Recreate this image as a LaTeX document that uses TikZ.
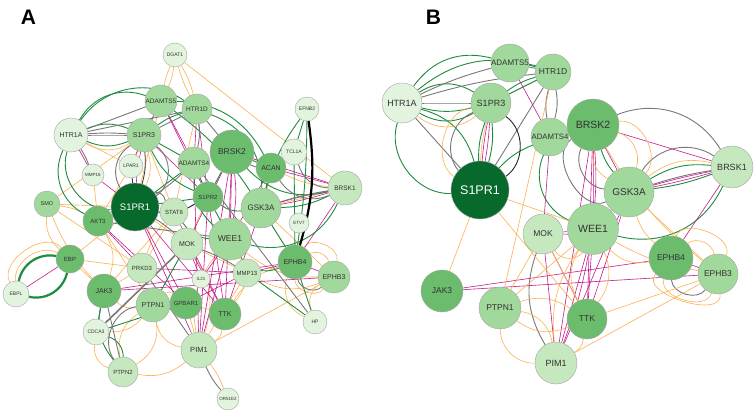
\documentclass[tikz,border=0pt]{standalone}
\usepackage{fontspec}
\setmainfont{Liberation Sans}
\setsansfont{Liberation Sans}
\definecolor{cdark}{RGB}{8,105,45}
\definecolor{cmdk}{RGB}{108,188,110}
\definecolor{cmed}{RGB}{161,216,155}
\definecolor{clight}{RGB}{197,232,190}
\definecolor{cvl}{RGB}{226,244,221}
\definecolor{nborder}{RGB}{165,165,165}
\definecolor{ntext}{RGB}{50,50,50}
\definecolor{eorange}{RGB}{253,178,80}
\definecolor{emag}{RGB}{196,28,140}
\definecolor{egreen}{RGB}{30,140,62}
\definecolor{egray}{RGB}{120,120,120}
\pgfdeclarelayer{bg}
\pgfsetlayers{bg,main}
\tikzset{
  gn/.style={circle, draw=nborder, line width=0.4pt, inner sep=0pt, text=ntext},
  fs/.style={font=\fontsize{#1}{#1}\selectfont},
  eo/.style={draw=eorange, line width=0.6pt},
  em/.style={draw=emag, line width=0.6pt},
  eg/.style={draw=egreen, line width=0.9pt},
  ey/.style={draw=egray, line width=0.9pt},
  ek/.style={draw=black, line width=2.2pt},
  egt/.style={draw=egreen, line width=2.2pt},
  plabel/.style={font=\fontsize{21}{21}\selectfont\bfseries, inner sep=0pt}
}
\begin{document}
\begin{tikzpicture}[x=1pt,y=-1pt]
\useasboundingbox (0,0) rectangle (756,414);
\node[plabel] (labA) at (28.5,17.5) {A};
\node[plabel] (labB) at (433.5,17.5) {B};
% ---------- Panel A nodes ----------
\node[gn, fill=cvl,    minimum size=24pt, fs=5]   (aDGAT1)   at (175,55)  {DGAT1};
\node[gn, fill=cmed,   minimum size=32pt, fs=6.5] (aADAMTS5) at (161,101) {ADAMTS5};
\node[gn, fill=cmed,   minimum size=30pt, fs=6.5] (aHTR1D)   at (197,109) {HTR1D};
\node[gn, fill=cvl,    minimum size=34pt, fs=7]   (aHTR1A)   at (71,135)  {HTR1A};
\node[gn, fill=cmed,   minimum size=34pt, fs=7]   (aS1PR3)   at (144,135) {S1PR3};
\node[gn, fill=cvl,    minimum size=24pt, fs=5]   (aLPAR1)   at (131,166) {LPAR1};
\node[gn, fill=cvl,    minimum size=22pt, fs=4.5] (aMMP16)   at (93,175)  {MMP16};
\node[gn, fill=cmed,   minimum size=26pt, fs=5.5] (aSMO)     at (47,204)  {SMO};
\node[gn, fill=cdark,  minimum size=48pt, fs=9.5, text=white] (aS1PR1) at (135,207) {S1PR1};
\node[gn, fill=cmdk,   minimum size=30pt, fs=6]   (aAKT3)    at (98,221)  {AKT3};
\node[gn, fill=clight, minimum size=28pt, fs=6]   (aSTAT6)   at (174,212) {STAT6};
\node[gn, fill=cmdk,   minimum size=28pt, fs=6]   (aEBP)     at (70,259)  {EBP};
\node[gn, fill=cvl,    minimum size=26pt, fs=5]   (aEBPL)    at (16,294)  {EBPL};
\node[gn, fill=clight, minimum size=30pt, fs=6]   (aPRKD3)   at (142,268) {PRKD3};
\node[gn, fill=cmdk,   minimum size=34pt, fs=7]   (aJAK3)    at (104,291) {JAK3};
\node[gn, fill=cmed,   minimum size=34pt, fs=7]   (aPTPN1)   at (153,305) {PTPN1};
\node[gn, fill=cmdk,   minimum size=32pt, fs=6]   (aGPBAR1)  at (186,303) {GPBAR1};
\node[gn, fill=cvl,    minimum size=26pt, fs=5]   (aCDCA3)   at (96,332)  {CDCA3};
\node[gn, fill=clight, minimum size=30pt, fs=6]   (aPTPN2)   at (123,372) {PTPN2};
\node[gn, fill=clight, minimum size=32pt, fs=7]   (aMOK)     at (187,244) {MOK};
\node[gn, fill=cmed,   minimum size=42pt, fs=8.5] (aWEE1)    at (230,239) {WEE1};
\node[gn, fill=cmed,   minimum size=32pt, fs=6.5] (aADAMTS4) at (194,163) {ADAMTS4};
\node[gn, fill=cmdk,   minimum size=30pt, fs=6]   (aS1PR2)   at (208,197) {S1PR2};
\node[gn, fill=cmdk,   minimum size=44pt, fs=8.5] (aBRSK2)   at (232,152) {BRSK2};
\node[gn, fill=cmdk,   minimum size=30pt, fs=7]   (aACAN)    at (271,168) {ACAN};
\node[gn, fill=cvl,    minimum size=26pt, fs=5]   (aTCL1A)   at (294,152) {TCL1A};
\node[gn, fill=cvl,    minimum size=24pt, fs=5]   (aEFNB2)   at (307,109) {EFNB2};
\node[gn, fill=clight, minimum size=34pt, fs=6.5] (aBRSK1)   at (345,188) {BRSK1};
\node[gn, fill=cmed,   minimum size=40pt, fs=8]   (aGSK3A)   at (261,208) {GSK3A};
\node[gn, fill=cvl,    minimum size=20pt, fs=4.5] (aETV7)    at (299,223) {ETV7};
\node[gn, fill=clight, minimum size=28pt, fs=6]   (aMMP13)   at (247,273) {MMP13};
\node[gn, fill=cvl,    minimum size=18pt, fs=4.5] (aIL21)    at (201,279) {IL21};
\node[gn, fill=cmdk,   minimum size=34pt, fs=7]   (aEPHB4)   at (295,262) {EPHB4};
\node[gn, fill=cmed,   minimum size=32pt, fs=7]   (aEPHB3)   at (334,277) {EPHB3};
\node[gn, fill=cvl,    minimum size=24pt, fs=5]   (aHP)      at (315,322) {HP};
\node[gn, fill=cmdk,   minimum size=32pt, fs=7]   (aTTK)     at (225,314) {TTK};
\node[gn, fill=clight, minimum size=36pt, fs=7.5] (aPIM1)    at (199,350) {PIM1};
\node[gn, fill=cvl,    minimum size=22pt, fs=4.5] (aOR51E2)  at (228,399) {OR51E2};
% ---------- Panel B nodes ----------
\node[gn, fill=cmed,   minimum size=36pt, fs=8]   (bADAMTS5) at (510,63)  {ADAMTS5};
\node[gn, fill=cmed,   minimum size=36pt, fs=8.5] (bHTR1D)   at (553,72)  {HTR1D};
\node[gn, fill=cvl,    minimum size=40pt, fs=9]   (bHTR1A)   at (402,103) {HTR1A};
\node[gn, fill=cmed,   minimum size=40pt, fs=9]   (bS1PR3)   at (491,103) {S1PR3};
\node[gn, fill=cmed,   minimum size=38pt, fs=7.8] (bADAMTS4) at (550,137) {ADAMTS4};
\node[gn, fill=cdark,  minimum size=58pt, fs=12.5, text=white] (bS1PR1) at (480,190) {S1PR1};
\node[gn, fill=cmdk,   minimum size=52pt, fs=10.5](bBRSK2)   at (593,125) {BRSK2};
\node[gn, fill=cmed,   minimum size=50pt, fs=10]  (bGSK3A)   at (629,192) {GSK3A};
\node[gn, fill=clight, minimum size=42pt, fs=9]   (bBRSK1)   at (732,167) {BRSK1};
\node[gn, fill=cmed,   minimum size=51pt, fs=10.5](bWEE1)    at (593,229) {WEE1};
\node[gn, fill=clight, minimum size=40pt, fs=8.5] (bMOK)     at (543,234) {MOK};
\node[gn, fill=cmdk,   minimum size=44pt, fs=8.5] (bEPHB4)   at (671,258) {EPHB4};
\node[gn, fill=cmed,   minimum size=40pt, fs=8.5] (bEPHB3)   at (718,274) {EPHB3};
\node[gn, fill=cmdk,   minimum size=42pt, fs=8.5] (bJAK3)    at (442,291) {JAK3};
\node[gn, fill=cmed,   minimum size=42pt, fs=8.5] (bPTPN1)   at (500,308) {PTPN1};
\node[gn, fill=cmdk,   minimum size=40pt, fs=8.5] (bTTK)     at (587,319) {TTK};
\node[gn, fill=clight, minimum size=42pt, fs=9]   (bPIM1)    at (556,363) {PIM1};
\begin{pgfonlayer}{bg}
\fill[white] (0,0) rectangle (756,414);
% ===== Panel A edges =====
\foreach \p/\q/\c in {aDGAT1/aADAMTS5/10, aDGAT1/aADAMTS5/-6, aDGAT1/aHTR1D/-6, aDGAT1/aHTR1D/8,
  aDGAT1/aBRSK1/0, aHTR1A/aS1PR3/-30, aSMO/aS1PR1/0, aSMO/aS1PR3/0, aSMO/aAKT3/10,
  aSMO/aEBP/-25, aSMO/aJAK3/-10, aSMO/aPRKD3/0, aS1PR1/aEBP/0, aEBP/aEBPL/-60, aEBP/aEBPL/-85,
  aEBP/aJAK3/0, aEBP/aPRKD3/0, aAKT3/aJAK3/25, aAKT3/aPTPN1/0, aLPAR1/aAKT3/0, aMMP16/aAKT3/0,
  aJAK3/aPRKD3/0, aJAK3/aPTPN1/-25, aPTPN1/aPTPN2/-35, aPTPN1/aPTPN2/35, aPTPN2/aPIM1/-25,
  aPTPN1/aPIM1/-35, aPTPN1/aGPBAR1/40, aGPBAR1/aTTK/0, aTTK/aPIM1/25, aPIM1/aOR51E2/8,
  aPIM1/aEPHB3/0, aTTK/aEPHB4/20, aEPHB4/aEPHB3/50, aEPHB4/aEPHB3/80, aEPHB4/aEPHB3/-70,
  aEPHB3/aHP/-40, aEPHB4/aHP/-45, aMMP13/aWEE1/0, aWEE1/aTTK/35, aGSK3A/aBRSK1/0,
  aACAN/aBRSK1/-10, aBRSK2/aGSK3A/45, aS1PR1/aMOK/0, aS1PR1/aPRKD3/25, aCDCA3/aPTPN1/-25,
  aSTAT6/aPRKD3/0, aHTR1D/aSTAT6/0, aADAMTS5/aLPAR1/0, aMOK/aPIM1/25, aMOK/aMMP13/0,
  aEPHB3/aMMP13/25, aS1PR3/aS1PR1/20, aADAMTS5/aS1PR1/0, aS1PR2/aMOK/0, aGSK3A/aEPHB4/0,
  aGSK3A/aEPHB3/0, aWEE1/aPIM1/-25, aGPBAR1/aPIM1/0, aHTR1A/aLPAR1/0, aS1PR3/aSTAT6/0,
  aWEE1/aEPHB3/-20, aMMP13/aPIM1/0, aSTAT6/aJAK3/0, aCDCA3/aPTPN2/-40}
  \draw[eo] (\p) to[bend left=\c] (\q);
\foreach \p/\q/\c in {aHTR1A/aMMP16/0, aS1PR3/aLPAR1/0, aMMP16/aS1PR1/0, aADAMTS5/aS1PR2/0,
  aHTR1D/aS1PR2/0, aS1PR3/aS1PR2/0, aBRSK2/aWEE1/0, aBRSK2/aWEE1/8, aBRSK2/aTTK/0,
  aBRSK2/aPIM1/0, aBRSK2/aMOK/0, aS1PR2/aPIM1/0, aBRSK1/aACAN/0, aBRSK1/aGSK3A/3,
  aBRSK1/aGSK3A/-3, aBRSK1/aBRSK2/0, aBRSK1/aEPHB4/0, aEBP/aEBPL/0, aAKT3/aPRKD3/0,
  aAKT3/aGPBAR1/0, aJAK3/aEPHB4/0, aJAK3/aEPHB3/0, aPRKD3/aMMP13/0, aMOK/aTTK/0,
  aWEE1/aPIM1/0, aMOK/aIL21/0, aWEE1/aIL21/0, aGPBAR1/aMMP13/0, aEPHB4/aEPHB3/0,
  aS1PR1/aTTK/0, aS1PR1/aPIM1/0, aS1PR1/aGPBAR1/0, aADAMTS4/aPIM1/0, aGSK3A/aTTK/0,
  aACAN/aWEE1/0, aS1PR2/aTTK/0, aADAMTS5/aADAMTS4/0, aHTR1D/aADAMTS4/0, aMMP13/aEPHB4/0,
  aS1PR3/aS1PR1/-4, aSTAT6/aTTK/0}
  \draw[em] (\p) to[bend left=\c] (\q);
\foreach \p/\q/\c in {aHTR1A/aADAMTS5/40, aHTR1A/aHTR1D/45, aHTR1A/aS1PR3/22, aHTR1A/aS1PR3/-22,
  aHTR1A/aS1PR1/-55, aHTR1A/aAKT3/-45, aS1PR3/aADAMTS4/0, aS1PR3/aHTR1D/10,
  aADAMTS5/aACAN/30, aHTR1D/aGSK3A/35, aADAMTS4/aS1PR2/0, aADAMTS4/aWEE1/-25,
  aBRSK2/aS1PR2/0, aS1PR2/aGSK3A/-20, aBRSK1/aWEE1/40, aBRSK1/aGSK3A/12, aEFNB2/aTCL1A/0,
  aEFNB2/aEPHB4/4, aJAK3/aCDCA3/0, aCDCA3/aPTPN2/35, aCDCA3/aGPBAR1/0, aJAK3/aPTPN2/-25,
  aMMP13/aHP/0, aEPHB4/aHP/0, aGSK3A/aEPHB4/0, aACAN/aGSK3A/0, aS1PR1/aS1PR2/0,
  aS1PR1/aADAMTS4/0, aWEE1/aEPHB4/-40, aBRSK2/aBRSK1/-30, aTCL1A/aEPHB4/0,
  aSTAT6/aWEE1/-25, aAKT3/aS1PR1/0, aS1PR3/aS1PR2/-20, aADAMTS5/aGSK3A/10, aBRSK2/aACAN/0,
  aEFNB2/aGSK3A/-10, aS1PR2/aWEE1/0, aPTPN1/aMOK/0}
  \draw[eg] (\p) to[bend left=\c] (\q);
\foreach \p/\q/\c in {aHTR1A/aADAMTS5/0, aHTR1A/aHTR1D/0, aHTR1A/aS1PR3/0, aHTR1A/aS1PR3/4,
  aHTR1A/aMMP16/6, aS1PR3/aS1PR1/55, aS1PR3/aS1PR1/-45, aS1PR3/aHTR1D/0, aHTR1D/aBRSK2/0,
  aBRSK2/aTCL1A/-35, aACAN/aBRSK1/-40, aTCL1A/aBRSK1/-35, aGSK3A/aBRSK1/4, aS1PR1/aMOK/5,
  aADAMTS4/aHP/0, aJAK3/aPTPN2/0, aPTPN1/aPTPN2/-60, aPIM1/aOR51E2/-8, aEPHB4/aEPHB3/-60,
  aMOK/aMMP13/5, aAKT3/aWEE1/0, aS1PR1/aSTAT6/45, aADAMTS5/aS1PR3/0, aADAMTS4/aS1PR1/5,
  aPRKD3/aPIM1/0, aS1PR2/aS1PR1/20, aHTR1D/aADAMTS4/10}
  \draw[ey] (\p) to[bend left=\c] (\q);
\draw[ey, line width=1.6pt] (aCDCA3) -- (aMOK);
\draw[draw=black!80, line width=0.9pt] (aLPAR1) -- (aS1PR1);
\draw[draw=black!80, line width=0.8pt] (aS1PR3) to[bend left=10] (aS1PR1);
\draw[draw=black!80, line width=0.8pt] (aS1PR1) to[bend right=20] (aS1PR2);
\draw[ek] (aEFNB2) to[bend left=12] (aEPHB4);
\draw[egt] (aEBP) to[bend left=45] (aEBPL);
\draw[egt] (aEBP) to[bend right=45] (aEBPL);
% ===== Panel B edges =====
\foreach \p/\q/\c in {bHTR1A/bADAMTS5/35, bHTR1A/bHTR1D/28, bHTR1A/bS1PR3/32, bHTR1A/bS1PR3/-30,
  bHTR1A/bS1PR3/-14, bHTR1A/bS1PR1/-55, bHTR1A/bS1PR1/30, bS1PR3/bHTR1D/0, bS1PR3/bHTR1D/10,
  bS1PR3/bS1PR1/10, bS1PR3/bS1PR1/-10, bS1PR1/bADAMTS4/12, bADAMTS4/bBRSK2/0,
  bADAMTS4/bWEE1/-45, bBRSK1/bWEE1/40, bBRSK2/bGSK3A/-10, bGSK3A/bBRSK1/18,
  bGSK3A/bBRSK1/-6, bADAMTS5/bHTR1D/8}
  \draw[eg] (\p) to[bend left=\c] (\q);
\foreach \p/\q/\c in {bHTR1A/bADAMTS5/5, bHTR1A/bHTR1D/5, bHTR1A/bS1PR3/0, bHTR1A/bS1PR1/0,
  bS1PR3/bS1PR1/-55, bHTR1D/bS1PR1/0, bHTR1D/bADAMTS4/-12, bADAMTS5/bHTR1D/0,
  bBRSK2/bBRSK1/40, bGSK3A/bBRSK1/45, bGSK3A/bBRSK1/4, bBRSK2/bGSK3A/-55, bBRSK2/bGSK3A/-85,
  bEPHB4/bEPHB3/-70, bMOK/bPIM1/-25, bHTR1D/bADAMTS4/12}
  \draw[ey] (\p) to[bend left=\c] (\q);
\draw[draw=black!85, line width=0.9pt] (bS1PR3) to[bend left=55] (bS1PR1);
\foreach \p/\q/\c in {bADAMTS5/bADAMTS4/0, bS1PR3/bS1PR1/3, bS1PR3/bS1PR1/-3, bBRSK2/bBRSK1/0,
  bGSK3A/bBRSK1/2, bGSK3A/bBRSK1/-2, bBRSK2/bWEE1/0, bBRSK2/bWEE1/4, bBRSK2/bTTK/0,
  bBRSK2/bPIM1/0, bBRSK2/bGSK3A/0, bWEE1/bMOK/0, bWEE1/bMOK/6, bWEE1/bTTK/0, bWEE1/bPIM1/0,
  bMOK/bTTK/0, bMOK/bPIM1/0, bBRSK1/bEPHB4/0, bJAK3/bEPHB4/0, bJAK3/bEPHB3/0,
  bEPHB4/bEPHB3/0, bGSK3A/bTTK/0, bGSK3A/bPIM1/0, bADAMTS4/bMOK/0, bWEE1/bPIM1/5,
  bGSK3A/bWEE1/0}
  \draw[em] (\p) to[bend left=\c] (\q);
\foreach \p/\q/\c in {bS1PR1/bJAK3/0, bS1PR1/bWEE1/0, bS1PR1/bTTK/0, bS1PR3/bS1PR1/-70,
  bS1PR3/bS1PR1/-6, bHTR1D/bPTPN1/0, bBRSK2/bGSK3A/45, bBRSK2/bGSK3A/-30, bBRSK2/bGSK3A/70,
  bGSK3A/bBRSK1/25, bGSK3A/bEPHB3/0, bGSK3A/bEPHB4/-15, bBRSK2/bEPHB3/-10, bWEE1/bTTK/30,
  bWEE1/bPIM1/-20, bWEE1/bPTPN1/0, bMOK/bPTPN1/0, bMOK/bTTK/0, bPTPN1/bPIM1/35,
  bPTPN1/bPIM1/-45, bPTPN1/bTTK/-30, bPTPN1/bTTK/25, bTTK/bPIM1/25, bPIM1/bEPHB3/0,
  bTTK/bEPHB3/0, bEPHB4/bEPHB3/60, bEPHB4/bEPHB3/95, bEPHB4/bEPHB3/-90, bEPHB4/bEPHB3/-115,
  bWEE1/bEPHB4/-30, bWEE1/bTTK/-30, bHTR1A/bS1PR3/-40, bMOK/bWEE1/-60, bWEE1/bEPHB3/-10}
  \draw[eo] (\p) to[bend left=\c] (\q);
\end{pgfonlayer}
\end{tikzpicture}
\end{document}
